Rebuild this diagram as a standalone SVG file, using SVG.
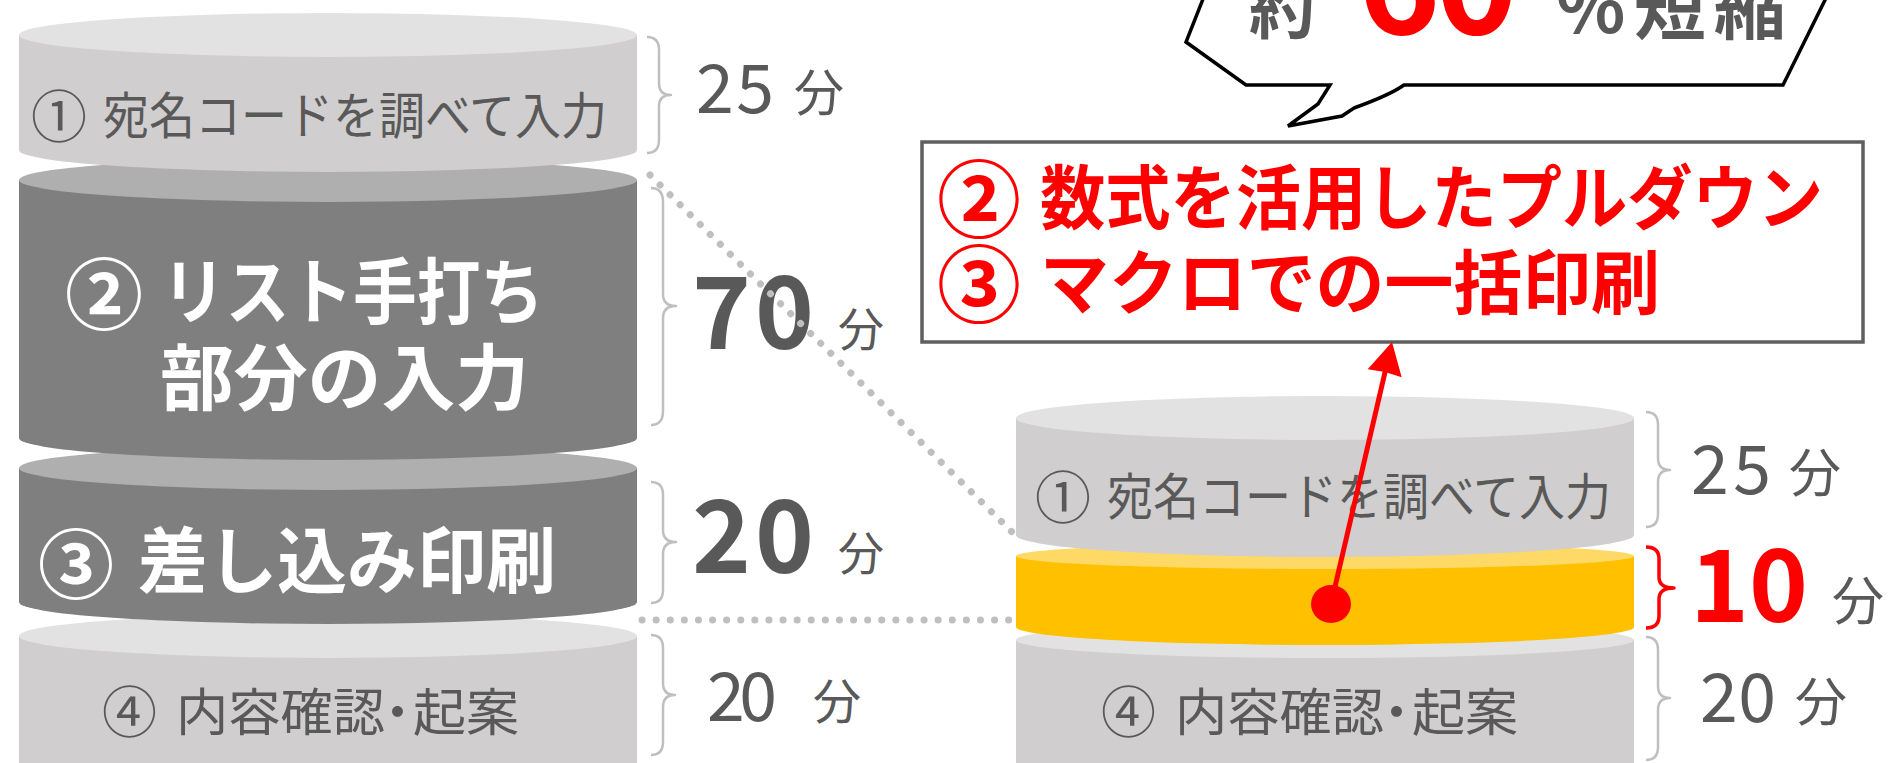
<svg xmlns="http://www.w3.org/2000/svg" width="1902" height="763" viewBox="0 0 1902 763">
<style>
.lt-side{fill:#d0cece}
.lt-top{fill:#e2e2e2}
.dk-side{fill:#7f7f7f}
.dk-top{fill:#afafaf}
.yl-side{fill:#ffc000}
.yl-top{fill:#ffd966}
.t{font-family:"Noto Sans CJK JP","Noto Sans",sans-serif}
.g{fill:#595959}
.b{font-weight:700}
.w{fill:#ffffff;font-weight:700}
.r{fill:#ff0000;font-weight:700}
.brace{fill:none;stroke:#bfbfbf;stroke-width:2.5;stroke-linejoin:round}
.brace-red{fill:none;stroke:#ff0000;stroke-width:3.5;stroke-linejoin:round}
.dots{fill:none;stroke:#bfbfbf;stroke-width:7;stroke-linecap:round;stroke-dasharray:0.1 14}
</style>
<rect width="1902" height="763" fill="#ffffff"/>

<!-- Left stack (drawn bottom first) -->
<g id="left-cyl4">
<path class="lt-side" d="M19,636 L19,800 L637,800 L637,636 Z"/>
<ellipse class="lt-top" cx="328" cy="636" rx="309" ry="22"/>
<text class="t g" x="102" y="732" font-size="55">④</text>
<text class="t g" x="176" y="731" font-size="51" textLength="209" lengthAdjust="spacingAndGlyphs">内容確認</text>
<text class="t g" x="372" y="731" font-size="51">・</text>
<text class="t g" x="413" y="731" font-size="51" textLength="106" lengthAdjust="spacingAndGlyphs">起案</text>
</g>
<g id="left-cyl3">
<path class="dk-side" d="M19,468 L19,602 A309,22 0 0 0 637,602 L637,468 Z"/>
<ellipse class="dk-top" cx="328" cy="468" rx="309" ry="22"/>
<text class="t w" x="38" y="593" font-size="76">③</text>
<text class="t w" x="138" y="587" font-size="72" textLength="418" lengthAdjust="spacingAndGlyphs">差し込み印刷</text>
</g>
<g id="left-cyl2">
<path class="dk-side" d="M19,180 L19,438 A309,22 0 0 0 637,438 L637,180 Z"/>
<ellipse class="dk-top" cx="328" cy="180" rx="309" ry="22"/>
<text class="t w" x="65" y="324" font-size="78">②</text>
<text class="t w" x="162" y="318" font-size="72" textLength="382" lengthAdjust="spacingAndGlyphs">リスト手打ち</text>
<text class="t w" x="160" y="404" font-size="72" textLength="369" lengthAdjust="spacingAndGlyphs">部分の入力</text>
</g>
<g id="left-cyl1">
<path class="lt-side" d="M19,35 L19,150 A309,22 0 0 0 637,150 L637,35 Z"/>
<ellipse class="lt-top" cx="328" cy="35" rx="309" ry="22"/>
<text class="t g" x="31" y="137" font-size="56">①</text>
<text class="t g" x="103" y="134" font-size="50" textLength="504" lengthAdjust="spacingAndGlyphs">宛名コードを調べて入力</text>
</g>

<!-- Right stack -->
<g id="right-cyl4">
<path class="lt-side" d="M1016,640 L1016,800 L1634,800 L1634,640 Z"/>
<ellipse class="lt-top" cx="1325" cy="640" rx="309" ry="18"/>
<text class="t g" x="1101" y="732" font-size="55">④</text>
<text class="t g" x="1175" y="731" font-size="51" textLength="209" lengthAdjust="spacingAndGlyphs">内容確認</text>
<text class="t g" x="1371" y="731" font-size="51">・</text>
<text class="t g" x="1412" y="731" font-size="51" textLength="106" lengthAdjust="spacingAndGlyphs">起案</text>
</g>
<g id="right-yellow">
<path class="yl-side" d="M1016,556 L1016,627 A309,18 0 0 0 1634,627 L1634,556 Z"/>
<ellipse class="yl-top" cx="1325" cy="556" rx="309" ry="13"/>
</g>
<g id="right-cyl1">
<path class="lt-side" d="M1016,418 L1016,535 A309,22 0 0 0 1634,535 L1634,418 Z"/>
<ellipse class="lt-top" cx="1325" cy="418" rx="309" ry="22"/>
<text class="t g" x="1035" y="518" font-size="56">①</text>
<text class="t g" x="1107" y="515" font-size="50" textLength="504" lengthAdjust="spacingAndGlyphs">宛名コードを調べて入力</text>
</g>

<!-- Braces -->
<g id="braces">
<path class="brace" d="M647,37 Q659,37 659,50 L659,84 Q659,95 671,95 Q659,95 659,106 L659,140 Q659,153 647,153"/>
<path class="brace" d="M651,188 Q663,188 663,202 L663,294 Q663,306 676,306 Q663,306 663,318 L663,411 Q663,425 651,425"/>
<path class="brace" d="M651,482 Q663,482 663,495 L663,530 Q663,542 676,542 Q663,542 663,554 L663,590 Q663,603 651,603"/>
<path class="brace" d="M651,635 Q663,635 663,648 L663,683 Q663,695 675,695 Q663,695 663,707 L663,742 Q663,755 651,755"/>
<path class="brace" d="M1646,412 Q1658,412 1658,425 L1658,458 Q1658,470 1670,470 Q1658,470 1658,482 L1658,514 Q1658,527 1646,527"/>
<path class="brace-red" d="M1646,547 Q1659,547 1659,559 L1659,577 Q1659,588 1674,588 Q1659,588 1659,599 L1659,616 Q1659,628 1646,628"/>
<path class="brace" d="M1646,637 Q1658,637 1658,650 L1658,686 Q1658,698 1670,698 Q1658,698 1658,710 L1658,747 Q1658,760 1646,760"/>
</g>

<!-- Time labels -->
<g id="labels">
<text class="t g" x="696" y="113" font-size="68" textLength="78">25</text>
<text class="t g" x="794" y="111" font-size="50">分</text>
<text class="t g b" x="692" y="349" font-size="100" textLength="122">70</text>
<text class="t g" x="838" y="346" font-size="46">分</text>
<text class="t g b" x="692" y="573" font-size="100" textLength="122">20</text>
<text class="t g" x="838" y="570" font-size="46">分</text>
<text class="t g" x="707" y="721" font-size="68" textLength="70">20</text>
<text class="t g" x="813" y="719" font-size="48">分</text>
<text class="t g" x="1691" y="494" font-size="68" textLength="80">25</text>
<text class="t g" x="1789" y="492" font-size="52">分</text>
<text class="t r" x="1690" y="622" font-size="100" textLength="118">10</text>
<text class="t g" x="1832" y="620" font-size="52">分</text>
<text class="t g" x="1700" y="722" font-size="68" textLength="76">20</text>
<text class="t g" x="1795" y="721" font-size="52">分</text>
</g>

<!-- Callout -->
<g id="callout">
<path d="M1205,-6 L1186,42 L1246,85 L1330,85 L1318,104 L1288,126 L1342,116 L1354,108 Q1390,95 1404,85 L1783,85 L1828,-6" fill="#ffffff" stroke="#000000" stroke-width="3.5" stroke-linejoin="miter"/>
<text class="t g b" x="1249" y="33" font-size="66">約</text>
<text class="t r" x="1358" y="34" font-size="140" textLength="160">60</text>
<text class="t g b" x="1556" y="33" font-size="72" textLength="230">%短縮</text>
</g>

<!-- Box -->
<g id="box">
<rect x="922" y="142" width="941" height="200" fill="#ffffff" stroke="#5f5f5f" stroke-width="3.5"/>
<text class="t r" x="937" y="231" font-size="84">②</text>
<text class="t r" x="1040" y="224" font-size="70" textLength="783" lengthAdjust="spacingAndGlyphs">数式を活用したプルダウン</text>
<text class="t r" x="937" y="316" font-size="84">③</text>
<text class="t r" x="1040" y="309" font-size="70" textLength="620" lengthAdjust="spacingAndGlyphs">マクロでの一括印刷</text>
</g>

<!-- Connectors -->
<g id="connectors">
<line class="dots" x1="650" y1="175" x2="1012" y2="532"/>
<line class="dots" x1="642" y1="620" x2="1014" y2="620"/>
<line x1="1331" y1="604" x2="1386" y2="368" stroke="#ff0000" stroke-width="5"/>
<polygon points="1392,342 1401.7,377.2 1385,372 1367.7,369.2" fill="#ff0000"/>
<ellipse cx="1331" cy="604" rx="20" ry="19" fill="#ff0000"/>
</g>
</svg>
